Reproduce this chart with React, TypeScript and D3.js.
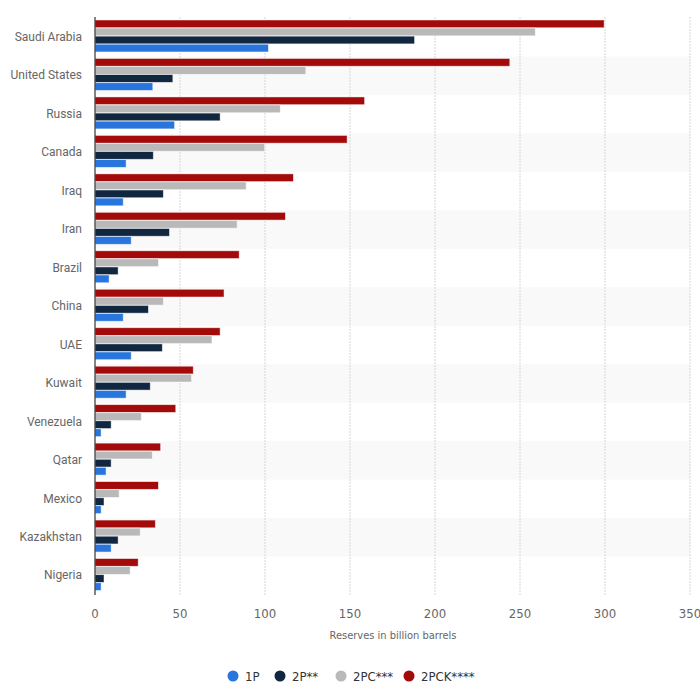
import { useEffect, useRef } from 'react';
import * as d3 from 'd3';

const countries = [
  'Saudi Arabia', 'United States', 'Russia', 'Canada', 'Iraq', 'Iran', 'Brazil',
  'China', 'UAE', 'Kuwait', 'Venezuela', 'Qatar', 'Mexico', 'Kazakhstan', 'Nigeria',
];
const p1 = [102, 34, 46.8, 18.3, 16.6, 21.3, 8.3, 16.6, 21.3, 18.3, 3.6, 6.5, 3.6, 9.5, 3.6];
const p2 = [188, 45.8, 73.6, 34.3, 40.2, 43.8, 13.6, 31.4, 39.6, 32.5, 9.5, 9.5, 5.3, 13.6, 5.3];
const p2c = [259, 124, 109, 99.8, 88.9, 83.6, 37.3, 40.2, 68.8, 56.8, 27.2, 33.7, 14.2, 26.6, 20.7];
const p2ck = [299.5, 244, 158.6, 148.3, 116.7, 112, 84.8, 75.9, 73.6, 57.8, 47.5, 38.6, 37.3, 35.5, 25.4];

const seriesNames = ['2PCK****', '2PC***', '2P**', '1P'];
const legendOrder = ['1P', '2P**', '2PC***', '2PCK****'];
const seriesValues: Record<string, number[]> = {
  '1P': p1,
  '2P**': p2,
  '2PC***': p2c,
  '2PCK****': p2ck,
};
const COLORS: Record<string, string> = {
  '1P': '#2876dd',
  '2P**': '#11263f',
  '2PC***': '#b9b9b9',
  '2PCK****': '#a30a0a',
};
const xTicks = [0, 50, 100, 150, 200, 250, 300, 350];

const FONT = 'Roboto, "Open Sans", sans-serif';
const NARROW = '"Liberation Sans Narrow", "DejaVu Sans Condensed", Roboto, sans-serif';

export default function App() {
  const svgRef = useRef<SVGSVGElement>(null);

  useEffect(() => {
    if (!svgRef.current) return;
    const width = 700;
    const height = 687;
    const margin = { top: 18, right: 10, bottom: 92, left: 95 };
    const svg = d3.select(svgRef.current);
    svg.selectAll('*').remove();

    const x = d3.scaleLinear().domain([0, 350]).range([margin.left, 690]);
    const y = d3
      .scaleBand<string>()
      .domain(countries)
      .range([margin.top, height - margin.bottom]);
    const sub = d3
      .scaleBand<string>()
      .domain(seriesNames)
      .range([2, y.bandwidth() - 4.5])
      .paddingInner(0.04);

    // alternating row backgrounds
    svg
      .append('g')
      .selectAll('rect')
      .data(countries.filter((_, i) => i % 2 === 1))
      .join('rect')
      .attr('x', margin.left)
      .attr('y', (d) => y(d)!)
      .attr('width', 690 - margin.left)
      .attr('height', y.bandwidth())
      .attr('fill', '#f9f9f9');

    // gridlines
    svg
      .append('g')
      .selectAll('line')
      .data(xTicks.slice(1))
      .join('line')
      .attr('x1', (d) => x(d))
      .attr('x2', (d) => x(d))
      .attr('y1', margin.top - 1)
      .attr('y2', height - margin.bottom)
      .attr('stroke', '#d6d6d6')
      .attr('stroke-dasharray', '2,1');

    // bars
    const groups = svg
      .append('g')
      .selectAll('g')
      .data(countries)
      .join('g')
      .attr('transform', (d) => `translate(0,${y(d)})`);
    groups
      .selectAll('rect')
      .data((_, i) => seriesNames.map((s) => ({ s, v: seriesValues[s][i] })))
      .join('rect')
      .attr('x', x(0))
      .attr('y', (d) => sub(d.s)!)
      .attr('width', (d) => x(d.v) - x(0))
      .attr('height', sub.bandwidth())
      .attr('fill', (d) => COLORS[d.s])
      .attr('stroke', 'rgba(255,255,255,0.6)')
      .attr('stroke-width', 0.8);

    // axis line
    svg
      .append('line')
      .attr('x1', x(0))
      .attr('x2', x(0))
      .attr('y1', margin.top - 1)
      .attr('y2', height - margin.bottom)
      .attr('stroke', '#333')
      .attr('stroke-width', 1.2);

    // category labels
    svg
      .append('g')
      .selectAll('text')
      .data(countries)
      .join('text')
      .attr('x', 82)
      .attr('y', (d) => y(d)! + y.bandwidth() / 2 - 0.5)
      .attr('dy', '0.35em')
      .attr('text-anchor', 'end')
      .attr('font-family', FONT)
      .attr('font-size', 12)
      .attr('fill', '#666')
      .text((d) => d);

    // x tick labels
    svg
      .append('g')
      .selectAll('text')
      .data(xTicks)
      .join('text')
      .attr('x', (d) => x(d))
      .attr('y', 613)
      .attr('dy', '0.35em')
      .attr('text-anchor', 'middle')
      .attr('font-family', NARROW)
      .attr('font-size', 13)
      .attr('fill', '#666')
      .text((d) => d);

    svg
      .append('text')
      .attr('x', 393)
      .attr('y', 635)
      .attr('dy', '0.35em')
      .attr('text-anchor', 'middle')
      .attr('font-family', NARROW)
      .attr('font-size', 11)
      .attr('fill', '#666')
      .text('Reserves in billion barrels');

    // legend
    const legendX = d3
      .scaleOrdinal<string, number>()
      .domain(legendOrder)
      .range([233, 280, 341, 409]);
    const leg = svg
      .append('g')
      .selectAll('g')
      .data(legendOrder)
      .join('g')
      .attr('transform', (d) => `translate(${legendX(d)},676)`);
    leg
      .append('circle')
      .attr('r', 5.5)
      .attr('fill', (d) => COLORS[d]);
    leg
      .append('text')
      .attr('x', 12)
      .attr('dy', '0.35em')
      .attr('font-family', NARROW)
      .attr('font-size', 13)
      .attr('fill', '#333')
      .text((d) => d);

    svg.attr('width', width).attr('height', height);
  }, []);

  return (
    <svg
      ref={svgRef}
      width={700}
      height={687}
      style={{ position: 'absolute', left: 0, top: 0 }}
    />
  );
}
